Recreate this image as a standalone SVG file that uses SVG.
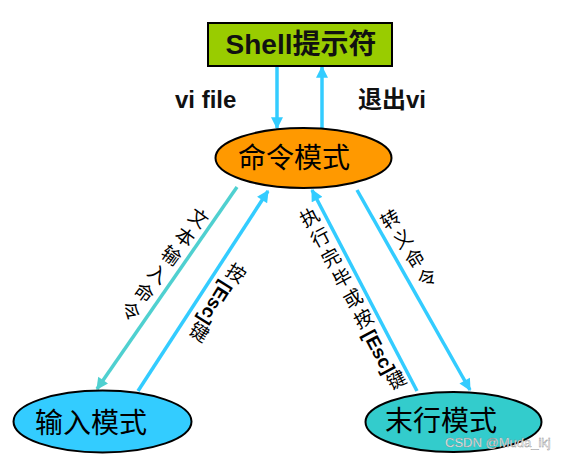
<svg xmlns="http://www.w3.org/2000/svg" width="561" height="455" viewBox="0 0 561 455">
<style>
.node{stroke:#000;stroke-width:2}
.big{font-family:"Liberation Sans","Noto Sans CJK SC",sans-serif;font-size:28px;fill:#000;text-anchor:middle}
.bold{font-family:"Liberation Sans","Noto Sans CJK SC",sans-serif;font-weight:bold;fill:#111}
.lab{font-family:"Liberation Sans","Noto Sans CJK SC",sans-serif;font-size:19px;fill:#000;text-anchor:middle;writing-mode:vertical-rl;letter-spacing:4px}
.esc{letter-spacing:0px;font-weight:bold}
.blue{stroke:#33ccff;stroke-width:3.5;fill:none}
.teal{stroke:#4fd0d0;stroke-width:3.5;fill:none}
</style>
<defs>
<marker id="ab" viewBox="0 0 10 10" refX="9" refY="5" markerWidth="13" markerHeight="12" markerUnits="userSpaceOnUse" orient="auto"><path d="M0,0 L10,5 L0,10 z" fill="#33ccff"/></marker>
<marker id="at" viewBox="0 0 10 10" refX="9" refY="5" markerWidth="13" markerHeight="12" markerUnits="userSpaceOnUse" orient="auto"><path d="M0,0 L10,5 L0,10 z" fill="#4fd0d0"/></marker>
</defs>
<rect width="561" height="455" fill="#fff"/>
<g id="connectors">
<line class="blue" x1="277" y1="67" x2="277" y2="128" marker-end="url(#ab)"/>
<line class="blue" x1="322" y1="128" x2="322" y2="67" marker-end="url(#ab)"/>
<line class="teal" x1="237" y1="187" x2="97" y2="389" marker-end="url(#at)"/>
<line class="blue" x1="138" y1="391" x2="268" y2="191" marker-end="url(#ab)"/>
<line class="blue" x1="417" y1="391" x2="312" y2="190" marker-end="url(#ab)"/>
<line class="blue" x1="357" y1="190" x2="470" y2="390" marker-end="url(#ab)"/>
<text class="bold" x="175" y="108" font-size="24">vi file</text>
<text class="bold" x="358" y="108" font-size="24">退出vi</text>
<text class="lab" transform="translate(162,265) rotate(36)">文本输入命令</text>
<text class="lab" transform="translate(215,303) rotate(32)">按<tspan class="esc">[Esc]</tspan>键</text>
<text class="lab" transform="translate(352,301) rotate(-28)">执行完毕或按<tspan class="esc">[Esc]</tspan>键</text>
<text class="lab" transform="translate(408,251) rotate(-32)">转义命令</text>
</g>
<g id="shell">
<rect class="node" x="208" y="23" width="184" height="43" fill="#99cc00"/>
<text class="bold" x="301" y="54" font-size="28" text-anchor="middle">Shell提示符</text>
</g>
<g id="command">
<ellipse class="node" cx="303.5" cy="158" rx="88" ry="30" fill="#ff9900"/>
<text class="big" x="294" y="168">命令模式</text>
</g>
<g id="input">
<ellipse class="node" cx="102.5" cy="421.5" rx="89" ry="31" fill="#33ccff"/>
<text class="big" x="91" y="433">输入模式</text>
</g>
<g id="lastline">
<ellipse class="node" cx="453.5" cy="422" rx="88" ry="30" fill="#33cccc"/>
<text class="big" x="441" y="431">末行模式</text>
</g>
<text x="445" y="447" font-family="Liberation Sans,sans-serif" font-size="13" fill="#ffffff" stroke="#8a8a8a" stroke-width="0.4">CSDN @Muda_ikj</text>
</svg>
